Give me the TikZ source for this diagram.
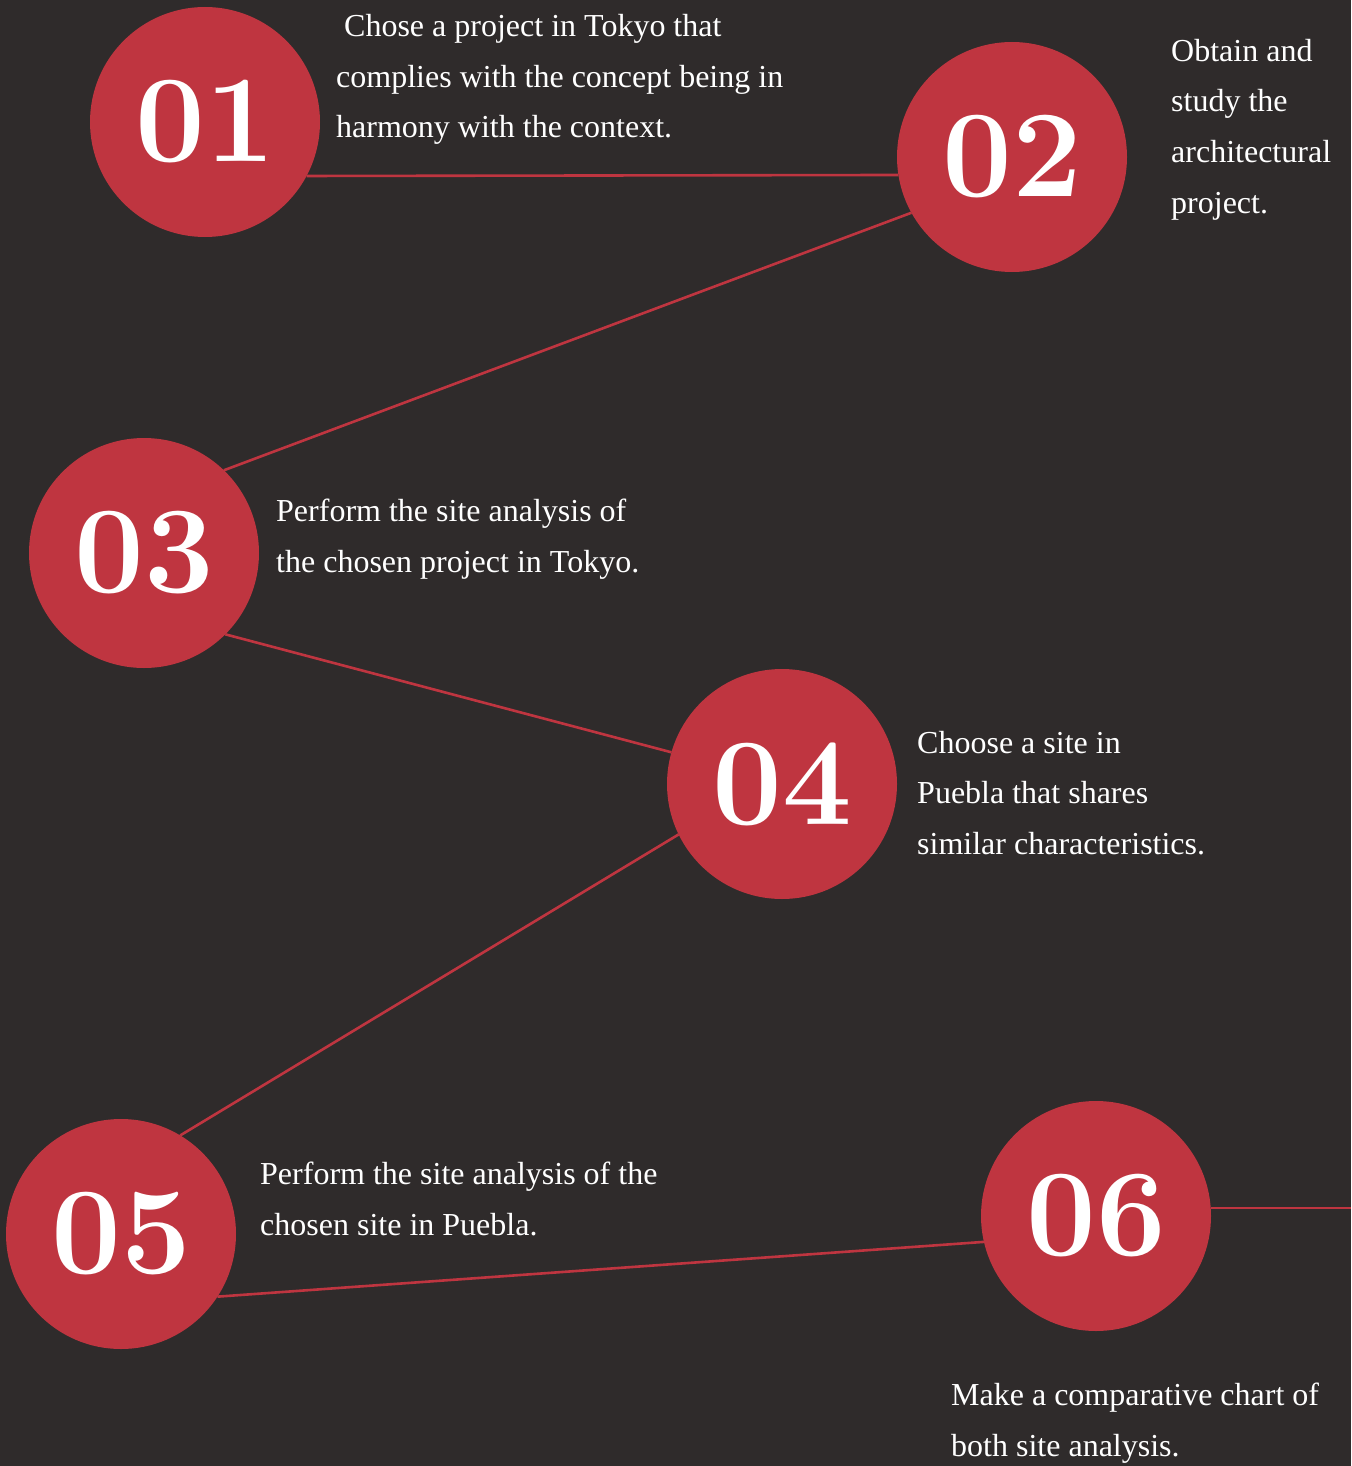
\documentclass[tikz,border=0pt]{standalone}
\usepackage{fontspec}
\newfontfamily\notefont{Liberation Serif}
\definecolor{bgdark}{HTML}{2F2B2B}
\definecolor{stepred}{HTML}{BF3540}
\tikzstyle{stepdot} = [circle,fill=stepred,minimum size=230pt,inner sep=0pt,
  outer sep=0pt,text=white,font=\bfseries\fontsize{124}{124}\selectfont]
\tikzstyle{note} = [anchor=base west,inner sep=0pt,align=left,text=white,
  font=\notefont\fontsize{32}{50.5}\selectfont]
\tikzstyle{link} = [draw=stepred,line width=2.6pt]

\begin{document}
\begin{tikzpicture}[x=1pt,y=-1pt]

\fill [bgdark] (0,0) rectangle (1351,1466);
\useasboundingbox (0,0) rectangle (1351,1466);

% numbered steps
\node [stepdot] (c1) at (205,122) {01};
\node [stepdot] (c2) at (1012,157) {02};
\node [stepdot] (c3) at (144,553) {03};
\node [stepdot] (c4) at (782,784) {04};
\node [stepdot] (c5) at (121,1234) {05};
\node [stepdot] (c6) at (1096,1216) {06};

% captions (placed by the baseline of their last line)
\node [note] (t1) at (336,138) {\ Chose a project in Tokyo that\\
  complies with the concept being in\\harmony with the context.};
\node [note] (t2) at (1171,213) {Obtain and\\study the\\architectural\\project.};
\node [note] (t3) at (276,572) {Perform the site analysis of\\
  the chosen project in Tokyo.};
\node [note] (t4) at (917,854) {Choose a site in\\Puebla that shares\\
  similar characteristics.};
\node [note] (t5) at (260,1235) {Perform the site analysis of the\\
  chosen site in Puebla.};
\node [note] (t6) at (951,1456) {Make a comparative chart of\\
  both site analysis.};

% links between steps
\draw [link] (c1.-28) -- (c2.189.5);
\draw [link] (c2.209) -- (c3.46);
\draw [link] (c3.-45) -- (c4.164);
\draw [link] (c4.206) -- (c5.59);
\draw [link] (c5.-33) -- (c6.193);
\coordinate (tail) at (1351,1208);
\draw [link] (c6.4) -- (c6.4 -| tail);

\end{tikzpicture}
\end{document}
